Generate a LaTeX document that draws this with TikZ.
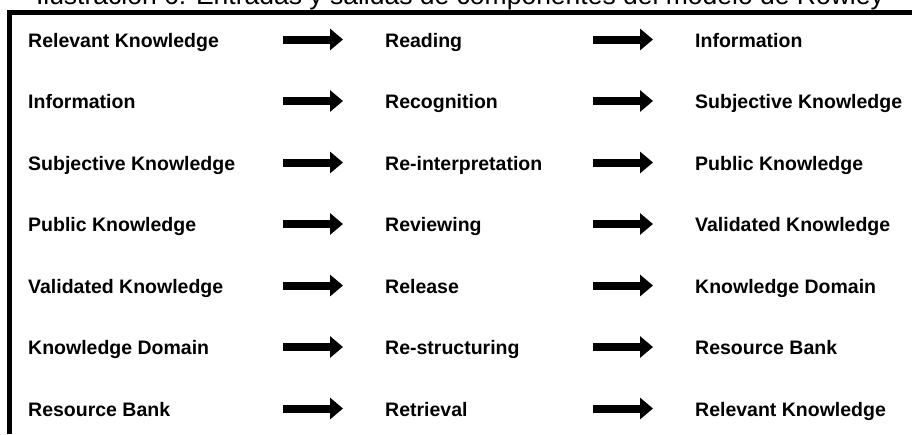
\documentclass[tikz,border=0pt]{standalone}
\usepackage{fontspec}
\setmainfont{Liberation Sans}
\usetikzlibrary{arrows.meta}
\begin{document}
\begin{tikzpicture}[x=1pt,y=-1pt,
  lbl/.style={anchor=base west,inner sep=0pt,font=\fontsize{19.5}{20}\selectfont\bfseries},
  titletext/.style={anchor=base,inner sep=0pt,font=\fontsize{26.5}{28}\selectfont},
  bigarrow/.style={line width=8pt,-{Triangle[length=13pt,width=21pt]}},
  frameline/.style={line width=5pt,line join=miter}]
\useasboundingbox (0,0) rectangle (912,434);
\clip (0,0) rectangle (912,434);
\node[titletext] (title) at (460,4) {Ilustración 6: Entradas y salidas de componentes del modelo de Rowley};
\draw[frameline] (9,434) -- (9,12.5) -- (912,12.5);
\foreach \a/\b/\c [count=\i from 0] in {
  Relevant Knowledge/Reading/Information,
  Information/Recognition/Subjective Knowledge,
  Subjective Knowledge/Re-interpretation/Public Knowledge,
  Public Knowledge/Reviewing/Validated Knowledge,
  Validated Knowledge/Release/Knowledge Domain,
  Knowledge Domain/Re-structuring/Resource Bank,
  Resource Bank/Retrieval/Relevant Knowledge}{
  \pgfmathsetmacro{\yb}{47+61.5*\i}
  \pgfmathsetmacro{\ya}{\yb-7.5}
  \node[lbl] (inp\i) at (28,\yb) {\a};
  \node[lbl] (comp\i) at (385,\yb) {\b};
  \node[lbl] (outp\i) at (695,\yb) {\c};
  \coordinate (sa\i) at (283,\ya);
  \coordinate (ea\i) at (343,\ya);
  \coordinate (sb\i) at (593,\ya);
  \coordinate (eb\i) at (653,\ya);
  \draw[bigarrow] (sa\i) -- (ea\i);
  \draw[bigarrow] (sb\i) -- (eb\i);
}
\end{tikzpicture}
\end{document}
